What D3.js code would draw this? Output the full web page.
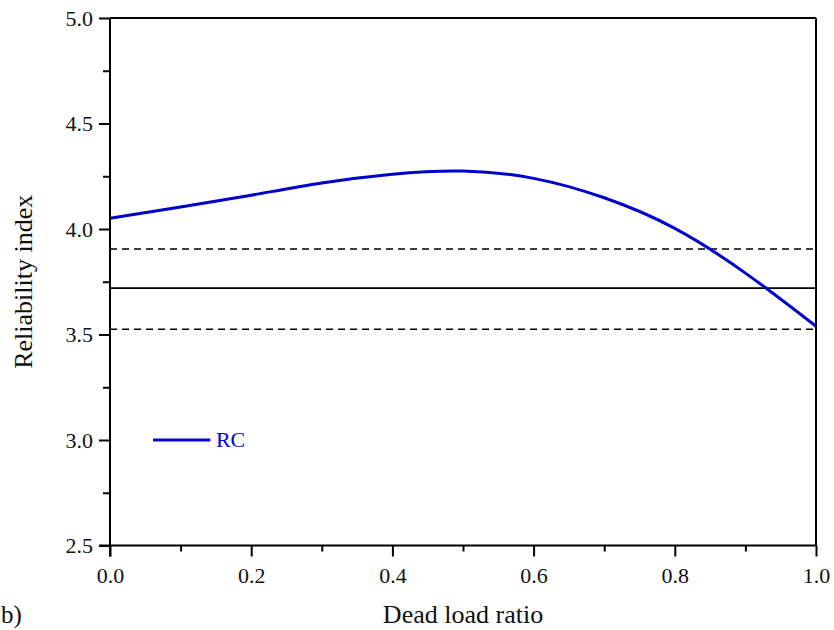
<!DOCTYPE html>
<html>
<head>
<meta charset="utf-8">
<script src="https://cdn.jsdelivr.net/npm/d3@7"></script>
<style>
  html, body { margin: 0; padding: 0; background: #fff; }
  svg { display: block; }
  svg text { font-family: "Liberation Serif", "Times New Roman", serif; }
</style>
</head>
<body>
<svg id="chart" width="834" height="630"></svg>
<script>
// Reliability index of RC members versus dead load ratio
const deadLoadRatio = [0.0, 0.1, 0.2, 0.3, 0.4, 0.5, 0.6, 0.7, 0.8, 0.9, 1.0];
const reliabilityRC = [4.051, 4.104, 4.160, 4.218, 4.260, 4.275, 4.240, 4.148, 4.003, 3.791, 3.539];

// Target reliability (solid) and its band (dashed)
const targetBeta = 3.72;
const bandBeta = [3.905, 3.525];

const xMajorTicks = [0.0, 0.2, 0.4, 0.6, 0.8, 1.0];
const xMinorTicks = [0.1, 0.3, 0.5, 0.7, 0.9];
const yMajorTicks = [2.5, 3.0, 3.5, 4.0, 4.5, 5.0];
const yMinorTicks = [2.75, 3.25, 3.75, 4.25, 4.75];

const svg = d3.select("#chart");
const plotLeft = 110, plotRight = 816, plotTop = 18, plotBottom = 545.5;
const serif = "'Liberation Serif', 'Times New Roman', serif";

const x = d3.scaleLinear().domain([0, 1]).range([plotLeft, plotRight]);
const y = d3.scaleLinear().domain([2.5, 5.0]).range([plotBottom, plotTop]);

const ink = "#000";
const blue = "#0000cc";

// Frame: top and right edges
svg.append("line").attr("x1", plotLeft).attr("x2", plotRight).attr("y1", plotTop).attr("y2", plotTop)
  .attr("stroke", ink).attr("stroke-width", 2);
svg.append("line").attr("x1", plotRight).attr("x2", plotRight).attr("y1", plotTop).attr("y2", plotBottom)
  .attr("stroke", ink).attr("stroke-width", 2);

// Reference lines
svg.append("line").attr("x1", plotLeft).attr("x2", plotRight)
  .attr("y1", y(targetBeta)).attr("y2", y(targetBeta))
  .attr("stroke", ink).attr("stroke-width", 1.6);
bandBeta.forEach(b => {
  svg.append("line").attr("x1", plotLeft).attr("x2", plotRight)
    .attr("y1", y(b)).attr("y2", y(b))
    .attr("stroke", ink).attr("stroke-width", 1.6)
    .attr("stroke-dasharray", "7,5");
});

// Curve
const line = d3.line()
  .x((d, i) => x(deadLoadRatio[i]))
  .y(d => y(d))
  .curve(d3.curveNatural);
svg.append("path").datum(reliabilityRC)
  .attr("d", line)
  .attr("fill", "none")
  .attr("stroke", blue)
  .attr("stroke-width", 3);

// Bottom axis
const xAxis = d3.axisBottom(x).tickValues(xMajorTicks).tickSize(11).tickPadding(11)
  .tickFormat(d3.format(".1f"));
const gx = svg.append("g").attr("transform", `translate(0,${plotBottom})`).call(xAxis);
gx.attr("font-family", null);
gx.selectAll("line").attr("stroke", ink).attr("stroke-width", 2);
gx.select(".domain").attr("stroke", ink).attr("stroke-width", 2).attr("d", `M${plotLeft - 11},0H${plotRight}`);
gx.selectAll("text").attr("font-size", 22).attr("fill", "#111").style("font-family", serif);
const gxm = svg.append("g").attr("transform", `translate(0,${plotBottom})`)
  .call(d3.axisBottom(x).tickValues(xMinorTicks).tickSize(6).tickFormat(""));
gxm.select(".domain").remove();
gxm.selectAll("line").attr("stroke", ink).attr("stroke-width", 2);

// Left axis
const yAxis = d3.axisLeft(y).tickValues(yMajorTicks).tickSize(11).tickPadding(6)
  .tickFormat(d3.format(".1f"));
const gy = svg.append("g").attr("transform", `translate(${plotLeft},0)`).call(yAxis);
gy.attr("font-family", null);
gy.selectAll("line").attr("stroke", ink).attr("stroke-width", 2);
gy.select(".domain").attr("stroke", ink).attr("stroke-width", 2).attr("d", `M0,${plotTop}V${plotBottom + 11}`);
gy.selectAll("text").attr("font-size", 22).attr("fill", "#111").style("font-family", serif);
const gym = svg.append("g").attr("transform", `translate(${plotLeft},0)`)
  .call(d3.axisLeft(y).tickValues(yMinorTicks).tickSize(7).tickFormat(""));
gym.select(".domain").remove();
gym.selectAll("line").attr("stroke", ink).attr("stroke-width", 2);

// Axis titles
svg.append("text").attr("x", (plotLeft + plotRight) / 2).attr("y", 623)
  .attr("text-anchor", "middle").attr("font-size", 26).attr("fill", "#111")
  .style("font-family", serif).text("Dead load ratio");
svg.append("text")
  .attr("transform", `translate(32,${(plotTop + plotBottom) / 2}) rotate(-90)`)
  .attr("text-anchor", "middle").attr("font-size", 26).attr("fill", "#111")
  .style("font-family", serif).text("Reliability index");
svg.append("text").attr("x", 1).attr("y", 623)
  .attr("font-size", 25).attr("fill", "#111").style("font-family", serif).text("b)");

// Legend
svg.append("line").attr("x1", x(0.061)).attr("x2", x(0.142))
  .attr("y1", y(3.0)).attr("y2", y(3.0))
  .attr("stroke", blue).attr("stroke-width", 3);
svg.append("text").attr("x", x(0.150)).attr("y", 447)
  .attr("font-size", 22).attr("fill", blue).style("font-family", serif).text("RC");
</script>
</body>
</html>
